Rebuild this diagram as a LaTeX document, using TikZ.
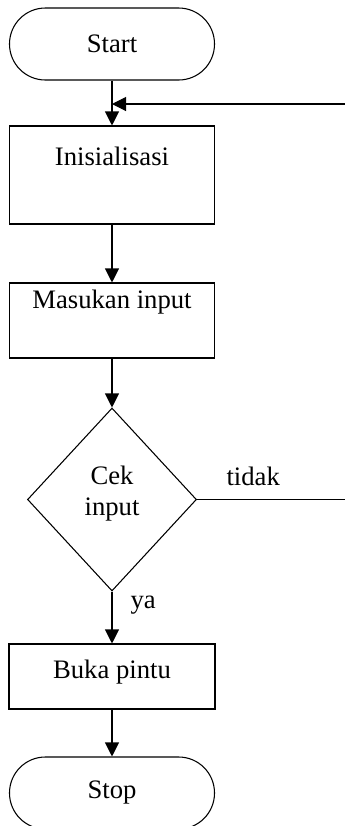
\documentclass[tikz,border=0pt]{standalone}
\usepackage{fontspec}
\setmainfont{Liberation Serif}
\usetikzlibrary{shapes.geometric,arrows.meta,positioning}
\tikzset{term node/.style={rectangle,rounded corners=26.9pt,draw,minimum width=153.75pt,minimum height=54pt,inner sep=0pt},
         proc node/.style={rectangle,draw,minimum width=153.75pt,inner sep=0pt},
         dec node/.style={diamond,draw,minimum width=126.75pt,minimum height=137.25pt,inner sep=0pt},
         edge label/.style = {rectangle,draw=none,fill=none,inner sep=0pt}
}

\begin{document}
\begin{tikzpicture}[->,>={Triangle[length=10.5pt,width=10.5pt]},
x=0.75pt, y=-0.75pt,
line width=0.8pt,
font=\fontsize{20}{23}\selectfont]

\useasboundingbox (0,0) rectangle (345,826);

\node[term node] (start) at (112,44) {Start};
\node[proc node,minimum height=73.5pt] (init) at (112,175) {};
\node[edge label,below=15.5pt of init.north] (init text) {Inisialisasi};
\node[proc node,minimum height=56.25pt] (input) at (112,320.5) {};
\node[edge label,below=5.25pt of input.north] (input text) {Masukan input};
\node[dec node] (cek) at (112,499.5) {};
\node[edge label,align=center,yshift=4.5pt] (cek text) at (cek) {Cek\\input};
\node[proc node,minimum width=154.5pt,minimum height=48.75pt] (buka) at (112,676.5) {};
\node[edge label,below=12pt of buka.north] (buka text) {Buka pintu};
\node[term node] (stop) at (112,793) {Stop};

\coordinate (back) at (345,104);
\coordinate (no) at (345,499.5);

\draw (start) -- (init);
\draw (back) -- (back -| init.north);
\draw (init) -- (input);
\draw (input) -- (cek);
\draw[-] (cek.east) -- (no);
\node[edge label,above right=10pt and 21.75pt of cek.east] (no text) {tidak};
\draw (cek) -- (buka);
\node[edge label,below right=3pt and 13.5pt of cek.south] (yes text) {ya};
\draw (buka) -- (stop);
\end{tikzpicture}
\end{document}
